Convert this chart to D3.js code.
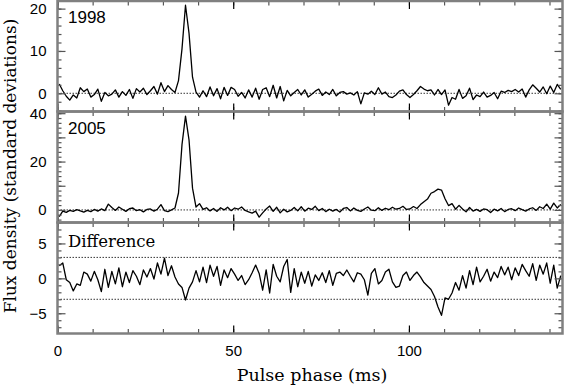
<html>
<head>
<meta charset="utf-8">
<style>
  body { margin: 0; background: #fff; }
  .tick text { font-family: "Liberation Sans", Arial, sans-serif; font-size: 15px; fill: #000; }
</style>
</head>
<body>
<div id="chart"></div>
<script src="https://cdnjs.cloudflare.com/ajax/libs/d3/7.8.5/d3.min.js"></script>
<script>
// pulse profiles, one value per ~1 ms bin (standard deviations)
var prof1998 = [
  2.2, 0.6, -0.7, -1.6, -0.4, -1.1, 1.3, 0.4, 1.0, -0.9,
  -0.3, 1.0, -1.9, 0.2, -0.6, -0.2, 0.8, -0.9, 0.4, -0.5,
  0.9, -1.2, 1.1, 0.3, 1.2, -0.3, 0.6, 1.6, -0.2, 2.5,
  0.4, 1.8, 0.9, 0.2, 3.0, 10.5, 20.8, 14.2, 3.8, 0.3,
  -0.9, 0.6, -0.8, 1.5, -0.6, 1.1, -1.3, 1.4, -0.5, 1.4,
  0.9, -0.7, 0.2, -1.1, 0.8, -0.9, 1.2, -1.4, 0.9, 1.3,
  -0.8, 1.9, -1.1, 1.6, -1.8, 0.7, -0.6, 0.2, 0.9, -0.4,
  0.8, -0.9, -0.2, 0.5, 1.0, -0.5, 0.3, -0.3, 0.9, -0.6,
  0.2, 0.4, -0.2, 0.1, -0.4, 0.4, -2.5, 0.1, -0.2, 0.5,
  -0.3, 1.3, -0.2, 0.3, -0.8, -1.0, -0.4, 0.5, 0.8, -0.3,
  -1.0, -0.3, 0.6, 1.6, 1.0, 0.6, 0.8, -0.4, 0.9, -0.3,
  0.8, -2.8, -1.0, -1.4, 0.9, -1.2, -0.6, 1.2, -1.5, -0.4,
  -0.8, 0.3, -0.9, -0.5, 0.2, -1.3, 0.5, 0.2, 0.7, 0.4,
  0.9, 0.3, 1.0, -0.9, 0.8, 2.0, 1.2, 0.3, 1.5, -0.1,
  1.7, 0.2, 2.1, 0.9
];
var prof2005 = [
  -2.8, -0.5, -1.0, -0.2, -0.6, 0.1, -0.4, -0.9, -0.2, -0.7,
  0.2, -0.5, 0.4, -0.3, 2.4, 1.0, -0.2, 1.2, 0.3, -0.6,
  0.5, 0.8, -0.3, 0.1, -0.8, 0.2, 0.4, -0.5, 0.3, 2.2,
  -0.3, -0.7, 0.0, 0.8, 7.0, 27.0, 38.8, 29.0, 9.0, 1.2,
  2.6, 0.2, 0.9, -0.4, 0.6, -0.6, 0.9, 0.0, 1.1, -0.3,
  0.8, 0.3, 1.2, -0.2, -0.8, -1.3, -0.5, -3.0, -1.2, 0.4,
  1.6, -0.6, 1.1, -1.2, 0.3, -0.8, -0.2, 1.0, -0.4, 1.3,
  -0.5, 0.7, 0.2, 1.5, -0.3, 0.6, -0.7, 0.3, -0.5, 0.2,
  -0.9, 0.6, 1.0, -0.4, 0.8, -0.2, -0.6, 0.4, 1.2, -0.1,
  -0.3, 0.9, -0.2, 0.7, 0.1, 1.1, 0.3, 0.6, 1.5, 0.2,
  0.4, 1.4, 0.6, 2.2, 3.4, 4.5, 6.9, 7.6, 8.6, 8.2,
  4.6, 1.8, 2.6, 0.3, 1.9, 0.4, -0.8, 1.0, -0.5, 0.2,
  -0.6, 0.4, 0.1, -1.1, 0.3, -0.4, 0.6, -0.7, 0.2, 0.5,
  -0.3, 0.8, 0.1, -0.5, 0.4, 0.9, -0.2, 1.3, 0.6, 2.4,
  0.3, 2.8, 0.8, 2.3
];
var profDiff = [
  1.8, 2.2, -0.2, -0.6, -1.8, -0.8, -1.0, 0.9, 0.6, -0.4,
  1.0, -0.2, -1.9, 1.3, -1.3, 1.0, -0.8, 1.5, -1.2, 0.9,
  -0.6, 1.1, 0.3, -0.9, 1.2, 0.2, 1.4, -0.1, 2.2, 0.6,
  2.9, 0.4, 1.8, 0.2, -0.8, -1.3, -3.1, -1.4, -0.5, 1.1,
  -0.5, 1.6, -0.6, 1.9, 0.3, 1.7, -1.0, 1.2, 0.1, 1.4,
  0.6, -0.3, 0.4, -0.9, -0.2, 0.8, 1.9, 0.7, -1.7, 1.2,
  -2.1, 2.0, 0.3, -0.5, 1.7, 2.7, -2.0, 1.4, -1.2, 0.9,
  -0.7, 1.0, -1.1, 0.5, -0.3, 0.8, -0.6, 1.1, -1.0, 0.7,
  0.9, 0.4, 1.2, 0.3, -0.5, 0.8, 0.6, -0.2, -2.4, 0.7,
  1.4, -0.8, -0.3, 0.9, 1.3, -0.5, -1.3, -1.1, 0.4, 0.9,
  -0.3, 0.4, 0.9, 0.2, -0.6, -1.1, -1.6, -2.6, -4.1, -5.3,
  -2.8, -3.0, -2.1, -0.6, -1.7, 0.4, -1.4, 1.1, -0.9, 1.6,
  -0.5, 0.3, 1.3, -0.4, 0.9, 0.1, 1.7, 0.5, 1.6, -0.2,
  1.5, 0.4, 2.0, 1.1, 0.3, 2.1, -0.3, 1.9, 0.6, 2.2,
  -0.7, 1.9, -1.4, 0.4
];
var panelNames = ['1998', '2005', 'Difference'];
var xTickLabels = [0, 50, 100];
var yTickLabels1998 = [0, 10, 20];
var yTickLabels2005 = [0, 20, 40];
var yTickLabelsDiff = [-5, 0, 5];
var diffLimits = [-3, 3];

var width = 567, height = 387,
    left = 57.5, right = 562.5,
    period = 143.7,
    binWidth = period / prof1998.length;

var svg = d3.select('#chart').append('svg')
    .attr('width', width)
    .attr('height', height);

var x = d3.scaleLinear().domain([0, period]).range([left, right]);

var panels = [
  {name: panelNames[0], data: prof1998, top: 1, bottom: 111.5, domain: [-4.3, 21.8],
   labels: yTickLabels1998, major: 10, minor: 2, refs: [0], font: 'sans'},
  {name: panelNames[1], data: prof2005, top: 111.5, bottom: 222.5, domain: [-5.2, 40.7],
   labels: yTickLabels2005, major: 10, minor: 2, refs: [0], font: 'sans'},
  {name: panelNames[2], data: profDiff, top: 222.5, bottom: 333.5, domain: [-7.9, 8.0],
   labels: yTickLabelsDiff, major: 5, minor: 1, refs: diffLimits, font: 'serif'}
];

function stepTicks(domain, step) {
  return d3.range(Math.ceil(domain[0] / step) * step, domain[1] + 1e-9, step);
}

panels.forEach(function(p, k) {
  var y = d3.scaleLinear().domain(p.domain).range([p.bottom, p.top]);
  var g = svg.append('g');
  var isLast = k === panels.length - 1;

  // reference lines
  p.refs.forEach(function(r) {
    g.append('line')
      .attr('x1', left).attr('x2', right)
      .attr('y1', y(r)).attr('y2', y(r))
      .attr('stroke', '#000')
      .attr('stroke-width', 0.8)
      .attr('stroke-dasharray', '1.5,1.5');
  });

  // profile
  var line = d3.line()
    .x(function(d, i) { return x((i + 0.5) * binWidth); })
    .y(function(d) { return y(d); });
  g.append('path')
    .datum(p.data)
    .attr('fill', 'none')
    .attr('stroke', '#000')
    .attr('stroke-width', 1.3)
    .attr('stroke-linejoin', 'round')
    .attr('d', line);

  // y ticks, left and right, pointing in
  var yMinor = stepTicks(p.domain, p.minor);
  var yMajor = stepTicks(p.domain, p.major);
  g.append('g').attr('transform', 'translate(' + left + ',0)')
    .call(d3.axisLeft(y).tickValues(yMinor).tickSize(-4).tickFormat(''));
  g.append('g').attr('transform', 'translate(' + left + ',0)')
    .call(d3.axisLeft(y).tickValues(yMajor).tickSize(-8).tickFormat(''));
  g.append('g').attr('transform', 'translate(' + left + ',0)')
    .call(d3.axisLeft(y).tickValues(p.labels).tickSize(0).tickPadding(11));
  g.append('g').attr('transform', 'translate(' + right + ',0)')
    .call(d3.axisRight(y).tickValues(yMinor).tickSize(-4).tickFormat(''));
  g.append('g').attr('transform', 'translate(' + right + ',0)')
    .call(d3.axisRight(y).tickValues(yMajor).tickSize(-8).tickFormat(''));

  // x ticks, top and bottom, pointing in
  var xMinor = d3.range(0, period, 10);
  g.append('g').attr('transform', 'translate(0,' + p.bottom + ')')
    .call(d3.axisBottom(x).tickValues(xMinor).tickSize(-4.5).tickFormat(''));
  g.append('g').attr('transform', 'translate(0,' + p.top + ')')
    .call(d3.axisTop(x).tickValues(xMinor).tickSize(-4.5).tickFormat(''));
  g.append('g').attr('class', 'xmajor').attr('transform', 'translate(0,' + p.bottom + ')')
    .call(d3.axisBottom(x).tickValues(xTickLabels).tickSize(-8).tickFormat(''));
  g.append('g').attr('class', 'xmajor').attr('transform', 'translate(0,' + p.top + ')')
    .call(d3.axisTop(x).tickValues(xTickLabels).tickSize(-8).tickFormat(''));
  if (isLast) {
    g.append('g').attr('transform', 'translate(0,' + p.bottom + ')')
      .call(d3.axisBottom(x).tickValues(xTickLabels).tickSize(0).tickPadding(12));
  }

  g.selectAll('.domain').remove();
  g.selectAll('.tick line').attr('stroke', '#555').attr('stroke-width', 1.2);
  g.selectAll('.xmajor .tick line').attr('stroke', '#000');

  // frame
  g.append('rect')
    .attr('x', left).attr('y', p.top)
    .attr('width', right - left).attr('height', p.bottom - p.top)
    .attr('fill', 'none')
    .attr('stroke', '#808080')
    .attr('stroke-width', 2.5);

  // panel label
  g.append('text')
    .attr('x', 68)
    .attr('y', p.top + (p.font === 'serif' ? 24 : 22))
    .attr('font-family', p.font === 'serif' ? '"DejaVu Serif", serif' : '"Liberation Sans", Arial, sans-serif')
    .attr('font-size', p.font === 'serif' ? '16.5px' : '17px')
    .text(p.name);
});

// axis titles
svg.append('text')
  .attr('x', 312)
  .attr('y', 381)
  .attr('text-anchor', 'middle')
  .attr('font-family', '"DejaVu Serif", serif')
  .attr('font-size', '17.5px')
  .text('Pulse phase (ms)');

svg.append('text')
  .attr('transform', 'translate(16,166) rotate(-90)')
  .attr('text-anchor', 'middle')
  .attr('font-family', '"DejaVu Serif", serif')
  .attr('font-size', '17px')
  .text('Flux density (standard deviations)');
</script>
</body>
</html>
